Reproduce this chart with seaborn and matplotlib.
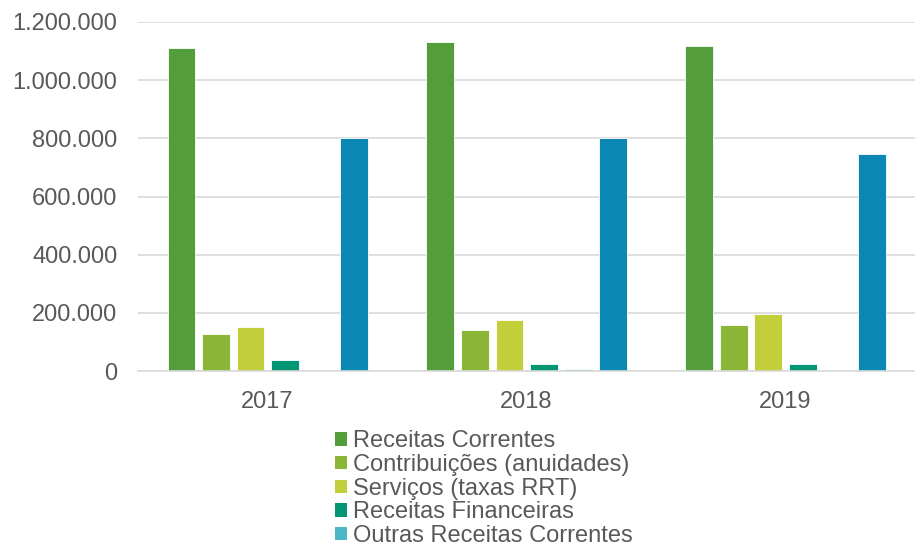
import matplotlib

matplotlib.use("Agg")
import matplotlib.pyplot as plt
import numpy as np
import pandas as pd
import seaborn as sns
from matplotlib.patches import Patch
from matplotlib.ticker import FuncFormatter, MultipleLocator

years = ["2017", "2018", "2019"]
series = [
    "Receitas Correntes",
    "Contribuições (anuidades)",
    "Serviços (taxas RRT)",
    "Receitas Financeiras",
    "Outras Receitas Correntes",
    "Receitas de Capital",
]
receitas_correntes = [1_110_000, 1_131_000, 1_117_000]
contribuicoes = [127_000, 141_000, 158_000]
servicos = [151_000, 175_000, 196_000]
financeiras = [38_000, 24_000, 24_000]
outras = [0, 6_000, 5_000]
capital = [802_000, 800_000, 746_000]

colors = ["#539d3a", "#8bb637", "#c3cf3a", "#009673", "#4bb6c4", "#0a87b3"]

values = [receitas_correntes, contribuicoes, servicos, financeiras, outras, capital]
data = pd.DataFrame(
    [(y, s, v[i]) for s, v in zip(series, values) for i, y in enumerate(years)],
    columns=["ano", "serie", "valor"],
)

sns.set_theme(style="white")
plt.rcParams["font.family"] = ["Liberation Sans", "DejaVu Sans"]

fig = plt.figure(figsize=(9.15, 5.49), dpi=100)
ax = fig.add_axes([0.151, 0.324, 0.849, 0.636])

sns.barplot(
    data,
    x="ano",
    y="valor",
    hue="serie",
    hue_order=series,
    palette=dict(zip(series, colors)),
    width=0.8,
    gap=0.2,
    edgecolor="white",
    linewidth=0.6,
    saturation=1,
    legend=False,
    ax=ax,
)

ax.set_ylim(0, 1_200_000)
ax.yaxis.set_major_locator(MultipleLocator(200_000))
ax.yaxis.set_major_formatter(FuncFormatter(lambda v, _: f"{v:,.0f}".replace(",", ".")))
ax.grid(axis="y", color="#d9d9d9", linewidth=1.2)
ax.set_axisbelow(True)
for side in ["top", "right", "left"]:
    ax.spines[side].set_visible(False)
ax.spines["bottom"].set_color("#d9d9d9")
ax.spines["bottom"].set_linewidth(1.2)
ax.tick_params(axis="both", length=0, labelsize=17, labelcolor="#595959")
ax.tick_params(axis="y", pad=15)
ax.tick_params(axis="x", pad=14)
ax.set(xlabel="", ylabel="")

# only the first five entries fit below the plot, as in the original
handles = [Patch(facecolor=c, edgecolor="none") for c in colors[:5]]
fig.legend(
    handles,
    series[:5],
    loc="upper left",
    bbox_to_anchor=(0.366, 0.216),
    frameon=False,
    fontsize=17,
    labelcolor="#595959",
    handlelength=0.5,
    handleheight=0.5,
    handletextpad=0.25,
    labelspacing=0.07,
    borderpad=0,
    borderaxespad=0,
)

fig.savefig("out.png", dpi=100)
